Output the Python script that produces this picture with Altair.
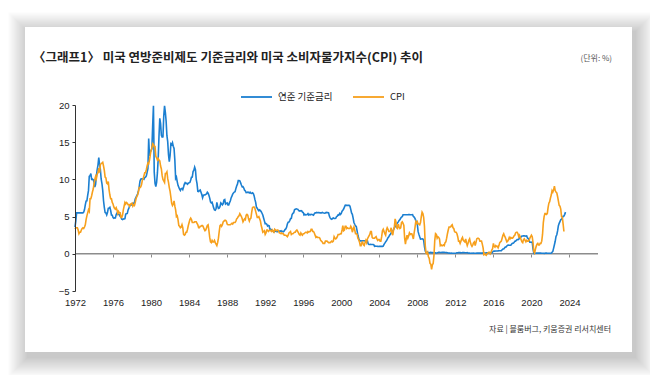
import altair as alt
import pandas as pd

# ---- data (monthly, starting Jan 1972) ----
fed_rate = [
    3.6, 4.4, 5.5, 5.5, 5.5, 5.5, 5.5, 5.5, 5.5, 5.5, 5.5, 5.6,            # 1972
    5.94, 6.58, 7.09, 7.12, 7.84, 8.49, 10.40, 10.50, 10.78, 10.01, 10.03, 9.95,
    9.65, 8.97, 9.35, 10.51, 11.31, 11.93, 12.92, 12.01, 11.34, 10.06, 9.45, 8.53,
    7.13, 6.24, 5.54, 5.49, 5.22, 5.55, 6.10, 6.14, 6.24, 5.82, 5.22, 5.20,
    4.87, 4.77, 4.84, 4.82, 5.29, 5.48, 5.31, 5.29, 5.25, 5.03, 4.95, 4.65,
    4.61, 4.68, 4.69, 4.73, 5.35, 5.39, 5.42, 5.90, 6.14, 6.47, 6.51, 6.56,
    6.70, 6.78, 6.79, 6.89, 7.36, 7.60, 7.81, 8.04, 8.45, 8.96, 9.76, 10.03,
    10.07, 10.06, 10.09, 10.01, 10.24, 10.29, 10.47, 10.94, 11.43, 15.5, 13.18, 13.78,
    13.82, 14.13, 17.19, 19.9, 10.98, 9.47, 9.03, 9.61, 10.87, 12.81, 15.85, 18.2,
    17.5, 15.93, 15.70, 15.72, 18.52, 19.9, 19.04, 17.82, 15.87, 15.08, 13.31, 12.37,
    13.22, 14.78, 14.68, 14.94, 14.45, 14.15, 12.59, 10.12, 10.31, 9.71, 9.20, 8.95,
    8.68, 8.51, 8.77, 8.80, 8.63, 8.98, 9.37, 9.56, 9.45, 9.48, 9.34, 9.47,
    9.56, 9.59, 9.91, 10.29, 10.32, 11.06, 11.23, 11.64, 11.30, 9.99, 9.43, 8.38,
    8.35, 8.50, 8.58, 8.27, 7.97, 7.53, 7.88, 7.90, 7.92, 7.99, 8.05, 8.27,
    8.14, 7.86, 7.48, 6.99, 6.85, 6.92, 6.56, 6.17, 5.89, 5.85, 6.04, 6.91,
    6.43, 6.10, 6.13, 6.37, 6.85, 6.73, 6.58, 6.73, 7.22, 7.29, 6.69, 6.77,
    6.83, 6.58, 6.58, 6.87, 7.09, 7.51, 7.75, 8.01, 8.19, 8.30, 8.35, 8.76,
    9.12, 9.36, 9.85, 9.84, 9.81, 9.53, 9.24, 8.99, 9.02, 8.84, 8.55, 8.45,
    8.23, 8.24, 8.28, 8.26, 8.18, 8.29, 8.15, 8.13, 8.20, 8.11, 7.81, 7.31,
    6.91, 6.25, 6.12, 5.91, 5.78, 5.90, 5.82, 5.66, 5.45, 5.21, 4.81, 4.43,
    4.03, 4.06, 3.98, 3.73, 3.82, 3.76, 3.25, 3.30, 3.22, 3.10, 3.09, 2.92,
    3.02, 3.03, 3.07, 2.96, 3.00, 3.04, 3.06, 3.03, 3.09, 2.99, 3.02, 2.96,
    3.05, 3.25, 3.34, 3.56, 4.01, 4.25, 4.26, 4.47, 4.73, 4.76, 5.29, 5.45,
    5.53, 5.92, 5.98, 6.05, 6.01, 6.00, 5.85, 5.74, 5.80, 5.76, 5.80, 5.60,
    5.56, 5.22, 5.31, 5.22, 5.24, 5.27, 5.40, 5.22, 5.30, 5.24, 5.31, 5.29,
    5.25, 5.19, 5.39, 5.51, 5.50, 5.56, 5.52, 5.54, 5.54, 5.50, 5.52, 5.50,
    5.56, 5.51, 5.49, 5.45, 5.49, 5.56, 5.54, 5.55, 5.51, 5.07, 4.83, 4.68,
    4.63, 4.76, 4.81, 4.74, 4.74, 4.76, 4.99, 5.07, 5.22, 5.20, 5.42, 5.30,
    5.45, 5.73, 5.85, 6.02, 6.27, 6.53, 6.54, 6.50, 6.52, 6.51, 6.51, 6.40,
    5.98, 5.49, 5.31, 4.80, 4.21, 3.97, 3.77, 3.65, 3.07, 2.49, 2.09, 1.82,
    1.73, 1.74, 1.73, 1.75, 1.75, 1.75, 1.73, 1.74, 1.75, 1.75, 1.34, 1.24,
    1.24, 1.26, 1.25, 1.26, 1.26, 1.22, 1.01, 1.03, 1.01, 1.01, 1.00, 0.98,
    1.00, 1.01, 1.00, 1.00, 1.00, 1.03, 1.26, 1.43, 1.61, 1.76, 1.93, 2.16,
    2.28, 2.50, 2.63, 2.79, 3.00, 3.04, 3.26, 3.50, 3.62, 3.78, 4.00, 4.16,
    4.29, 4.49, 4.59, 4.79, 4.94, 4.99, 5.24, 5.25, 5.25, 5.25, 5.25, 5.24,
    5.25, 5.26, 5.26, 5.25, 5.25, 5.25, 5.26, 5.02, 4.94, 4.76, 4.49, 4.24,
    3.94, 2.98, 2.61, 2.28, 1.98, 2.00, 2.01, 2.00, 1.81, 0.97, 0.39, 0.16,
    0.15, 0.22, 0.18, 0.15, 0.18, 0.21, 0.16, 0.16, 0.15, 0.12, 0.12, 0.12,
    0.11, 0.13, 0.16, 0.20, 0.20, 0.18, 0.18, 0.19, 0.19, 0.19, 0.19, 0.18,
    0.17, 0.16, 0.14, 0.10, 0.09, 0.09, 0.07, 0.10, 0.08, 0.07, 0.08, 0.07,
    0.08, 0.10, 0.13, 0.14, 0.16, 0.16, 0.16, 0.13, 0.14, 0.16, 0.16, 0.16,
    0.14, 0.15, 0.14, 0.15, 0.11, 0.09, 0.09, 0.08, 0.08, 0.09, 0.08, 0.09,
    0.07, 0.07, 0.08, 0.09, 0.09, 0.10, 0.09, 0.09, 0.09, 0.09, 0.09, 0.12,
    0.11, 0.11, 0.11, 0.12, 0.12, 0.13, 0.13, 0.14, 0.14, 0.12, 0.12, 0.24,
    0.34, 0.38, 0.36, 0.37, 0.37, 0.38, 0.39, 0.40, 0.40, 0.40, 0.41, 0.54,
    0.65, 0.66, 0.79, 0.90, 0.91, 1.04, 1.15, 1.16, 1.15, 1.15, 1.16, 1.30,
    1.41, 1.42, 1.51, 1.69, 1.70, 1.82, 1.91, 1.91, 1.95, 2.19, 2.20, 2.27,
    2.40, 2.40, 2.41, 2.42, 2.39, 2.38, 2.40, 2.13, 2.04, 1.83, 1.55, 1.55,
    1.55, 1.58, 0.65, 0.05, 0.05, 0.08, 0.09, 0.10, 0.09, 0.09, 0.09, 0.09,
    0.09, 0.08, 0.07, 0.07, 0.06, 0.08, 0.10, 0.09, 0.08, 0.08, 0.08, 0.08,
    0.08, 0.08, 0.20, 0.33, 0.77, 1.21, 1.68, 2.33, 2.56, 3.08, 3.78, 4.10,
    4.33, 4.57, 4.65, 4.83, 5.06, 5.08, 5.30, 5.60,                          # 2023
]

cpi_yoy = [
    3.3, 3.5, 3.5, 3.5, 3.2, 2.7, 2.9, 2.9, 3.2, 3.4, 3.5, 3.4,            # 1972
    3.6, 3.9, 4.6, 5.1, 5.5, 5.9, 5.7, 7.4, 7.4, 7.8, 8.3, 8.7,
    9.4, 10.0, 10.4, 10.1, 10.7, 10.9, 11.5, 10.9, 12.0, 12.1, 12.2, 12.3,
    11.8, 11.2, 10.3, 10.2, 9.5, 9.4, 9.7, 8.6, 7.9, 7.4, 7.4, 6.9,
    6.7, 6.3, 6.1, 6.0, 6.2, 5.9, 5.4, 5.7, 5.5, 5.5, 4.9, 4.9,
    5.2, 5.9, 6.4, 6.9, 6.7, 6.9, 6.8, 6.6, 6.6, 6.4, 6.7, 6.7,
    6.8, 6.4, 6.6, 6.5, 6.9, 7.4, 7.7, 7.9, 8.3, 8.9, 8.9, 9.0,
    9.3, 9.9, 10.1, 10.5, 10.9, 10.9, 11.3, 11.8, 12.2, 12.1, 12.6, 13.3,
    13.9, 14.2, 14.8, 14.7, 14.4, 14.4, 13.1, 12.9, 12.6, 12.8, 12.6, 12.5,
    11.8, 11.4, 10.5, 10.0, 9.8, 9.6, 10.8, 10.8, 11.0, 10.1, 9.6, 8.9,
    8.4, 7.6, 6.8, 6.5, 6.7, 7.1, 6.4, 5.9, 5.0, 5.1, 4.6, 3.8,
    3.7, 3.5, 3.6, 3.9, 3.5, 2.6, 2.5, 2.6, 2.9, 2.9, 3.3, 3.8,
    4.2, 4.6, 4.8, 4.6, 4.2, 4.2, 4.2, 4.3, 4.3, 4.3, 4.1, 3.9,
    3.5, 3.5, 3.7, 3.7, 3.8, 3.8, 3.6, 3.3, 3.1, 3.2, 3.5, 3.8,
    3.9, 3.1, 2.2, 1.6, 1.5, 1.8, 1.6, 1.6, 1.8, 1.5, 1.3, 1.1,
    1.5, 2.1, 3.0, 3.8, 3.9, 3.7, 3.9, 4.3, 4.4, 4.5, 4.5, 4.4,
    4.0, 3.9, 3.9, 3.9, 3.9, 4.0, 4.1, 4.0, 4.2, 4.2, 4.2, 4.4,
    4.7, 4.8, 5.0, 5.1, 5.4, 5.2, 5.0, 4.7, 4.3, 4.5, 4.7, 4.6,
    5.2, 5.3, 5.2, 4.7, 4.4, 4.7, 4.8, 5.6, 6.2, 6.3, 6.3, 6.1,
    5.7, 5.3, 4.9, 4.9, 5.0, 4.7, 4.4, 3.8, 3.4, 2.9, 3.0, 3.1,
    2.6, 2.8, 3.2, 3.2, 3.0, 3.1, 3.2, 3.1, 3.0, 3.2, 3.0, 2.9,
    3.3, 3.2, 3.1, 3.2, 3.2, 3.0, 2.8, 2.8, 2.7, 2.8, 2.7, 2.7,
    2.5, 2.5, 2.5, 2.4, 2.3, 2.5, 2.8, 2.9, 3.0, 2.6, 2.7, 2.7,
    2.8, 2.9, 2.9, 3.1, 3.2, 3.0, 2.8, 2.6, 2.5, 2.8, 2.6, 2.5,
    2.7, 2.7, 2.8, 2.9, 2.9, 2.8, 3.0, 2.9, 3.0, 3.0, 3.3, 3.3,
    3.0, 3.0, 2.8, 2.5, 2.2, 2.3, 2.2, 2.2, 2.2, 2.1, 1.8, 1.7,
    1.6, 1.4, 1.4, 1.4, 1.7, 1.7, 1.7, 1.6, 1.5, 1.5, 1.5, 1.6,
    1.7, 1.6, 1.7, 2.3, 2.1, 2.0, 2.1, 2.3, 2.6, 2.6, 2.6, 2.7,
    2.7, 3.2, 3.8, 3.1, 3.2, 3.7, 3.7, 3.4, 3.5, 3.4, 3.4, 3.4,
    3.7, 3.5, 2.9, 3.3, 3.6, 3.2, 2.7, 2.7, 2.6, 2.1, 1.9, 1.6,
    1.1, 1.1, 1.5, 1.6, 1.2, 1.1, 1.5, 1.8, 1.5, 2.0, 2.2, 2.4,
    2.6, 3.0, 3.0, 2.2, 2.1, 2.1, 2.1, 2.2, 2.3, 2.0, 1.8, 1.9,
    1.9, 1.7, 1.7, 2.3, 3.1, 3.3, 3.0, 2.7, 2.5, 3.2, 3.5, 3.3,
    3.0, 3.0, 3.1, 3.5, 2.8, 2.5, 3.2, 3.6, 4.7, 4.3, 3.5, 3.4,
    4.0, 3.6, 3.4, 3.5, 4.2, 4.3, 4.1, 3.8, 2.1, 1.3, 2.0, 2.5,
    2.1, 2.4, 2.8, 2.6, 2.7, 2.7, 2.4, 2.0, 2.8, 3.5, 4.3, 4.1,
    4.3, 4.0, 4.0, 3.9, 4.2, 5.0, 5.6, 5.4, 4.9, 3.7, 1.1, 0.1,
    0.0, 0.2, -0.4, -0.6, -1.3, -1.4, -2.1, -1.5, -1.3, -0.2, 1.8, 2.7,
    2.6, 2.1, 2.3, 2.2, 2.0, 1.1, 1.2, 1.1, 1.1, 1.2, 1.1, 1.5,
    1.6, 2.1, 2.7, 3.2, 3.6, 3.6, 3.6, 3.8, 3.9, 3.5, 3.4, 3.0,
    2.9, 2.9, 2.7, 2.3, 1.7, 1.7, 1.4, 1.7, 2.0, 2.2, 1.8, 1.7,
    1.6, 2.0, 1.5, 1.1, 1.4, 1.8, 2.0, 1.5, 1.2, 1.0, 1.2, 1.5,
    1.6, 1.1, 1.5, 2.0, 2.1, 2.1, 2.0, 1.7, 1.7, 1.7, 1.3, 0.8,
    -0.1, 0.0, -0.1, -0.2, 0.0, 0.1, 0.2, 0.2, 0.0, 0.2, 0.5, 0.7,
    1.4, 1.0, 0.9, 1.1, 1.0, 1.0, 0.8, 1.1, 1.5, 1.6, 1.7, 2.1,
    2.5, 2.7, 2.4, 2.2, 1.9, 1.6, 1.7, 1.9, 2.2, 2.0, 2.2, 2.1,
    2.1, 2.2, 2.4, 2.5, 2.8, 2.9, 2.9, 2.7, 2.3, 2.5, 2.2, 1.9,
    1.6, 1.5, 1.9, 2.0, 1.8, 1.6, 1.8, 1.7, 1.7, 1.8, 2.1, 2.3,
    2.5, 2.3, 1.5, 0.3, 0.1, 0.6, 1.0, 1.3, 1.4, 1.2, 1.2, 1.4,
    1.4, 1.7, 2.6, 4.2, 5.0, 5.4, 5.4, 5.3, 5.4, 6.2, 6.8, 7.0,
    7.5, 7.9, 8.5, 8.3, 8.6, 9.1, 8.5, 8.3, 8.2, 7.7, 7.1, 6.5,
    6.4, 6.0, 5.0, 4.9, 4.0, 3.0,                                            # 2023
]

series_names = ["연준 기준금리", "CPI"]
series_colors = ["#1b7fd1", "#f7a01c"]
start_year = 1972
x_ticks = list(range(1972, 2025, 4))
y_ticks = [-5, 0, 5, 10, 15, 20]

title_text = "〈그래프1〉 미국 연방준비제도 기준금리와 미국 소비자물가지수(CPI) 추이"
unit_text = "(단위: %)"
source_text = "자료 | 블룸버그, 키움증권 리서치센터"

# ---- tables ----
rows = []
for name, vals in zip(series_names, [fed_rate, cpi_yoy]):
    for i, v in enumerate(vals):
        rows.append({"t": start_year + i / 12, "v": v, "series": name})
df = pd.DataFrame(rows)
one = pd.DataFrame({"k": [0]})

FONT = "Liberation Sans"
KFONT = "Noto Sans CJK KR"

x_enc = alt.X("t:Q", scale=alt.Scale(domain=[1972, 2027], nice=False, zero=False),
              axis=alt.Axis(values=x_ticks, format="d", title=None, grid=False,
                            domain=False, offset=-37, tickSize=3, tickColor="#8c8c8c",
                            labelPadding=40, labelFont=FONT, labelFontSize=9.5,
                            labelColor="#222222", labelOverlap=False, zindex=1))
y_axis = alt.Axis(values=y_ticks, title=None, grid=False, domainColor="#333333",
                  tickColor="#333333", tickSize=3, labelPadding=3,
                  labelFont=FONT, labelFontSize=9.5, labelColor="#222222",
                  labelOverlap=False, labelFlush=False, zindex=1)
y_scale = alt.Scale(domain=[-5, 20], nice=False)

# ---- decorative card with soft shadow ----
layers = []
for i in range(18, 0, -1):
    s = i * 1.1
    layers.append(
        alt.Chart(one).mark_rect(color="#000000", opacity=0.013).encode(
            x=alt.value(-50 - s + 3), x2=alt.value(557 + s + 3),
            y=alt.value(-78 - s + 5), y2=alt.value(247 + s + 5)))
layers.append(
    alt.Chart(one).mark_rect(color="#ffffff").encode(
        x=alt.value(-50), x2=alt.value(557), y=alt.value(-78), y2=alt.value(247)))

lines = alt.Chart(df).mark_line(strokeWidth=1.6).encode(
    x=x_enc,
    y=alt.Y("v:Q", scale=y_scale, axis=y_axis),
    color=alt.Color("series:N", scale=alt.Scale(domain=series_names, range=series_colors),
                    legend=None),
)

# zero line (same y scale / axis)
zero_rule = alt.Chart(one).mark_rule(color="#8c8c8c", strokeWidth=1.5).encode(
    y=alt.Y(datum=0, type="quantitative", scale=y_scale, axis=y_axis))
layers.append(zero_rule)
layers.append(lines)

# title, unit, source
layers.append(alt.Chart(one).mark_text(text=title_text, font=KFONT, fontSize=12.5,
                                       fontWeight="bold", color="#222222",
                                       align="left", baseline="middle").encode(
    x=alt.value(-42), y=alt.value(-47)))
layers.append(alt.Chart(one).mark_text(text=unit_text, font=KFONT, fontSize=8,
                                       color="#555555", align="right",
                                       baseline="middle").encode(
    x=alt.value(537), y=alt.value(-46)))
layers.append(alt.Chart(one).mark_text(text=source_text, font=KFONT, fontSize=8,
                                       color="#333333", align="right",
                                       baseline="middle").encode(
    x=alt.value(536), y=alt.value(225)))

# legend
legend_x = [166, 278]
for name, col, lx in zip(series_names, series_colors, legend_x):
    layers.append(alt.Chart(one).mark_rule(color=col, strokeWidth=1.8).encode(
        x=alt.value(lx), x2=alt.value(lx + 31), y=alt.value(-8)))
    layers.append(alt.Chart(one).mark_text(text=name, font=KFONT, fontSize=9.5,
                                           color="#222222", align="left",
                                           baseline="middle").encode(
        x=alt.value(lx + 37), y=alt.value(-8)))

chart = alt.layer(*layers).properties(
    width=523, height=186,
    autosize=alt.AutoSizeParams(type="none"),
    padding={"left": 75, "top": 105, "right": 52, "bottom": 84},
    background="#ffffff",
).configure_view(stroke=None).configure_axis(labelOverlap=False, labelFlush=False)

chart.save("out.html", embed_options={"renderer": "svg", "actions": False})
